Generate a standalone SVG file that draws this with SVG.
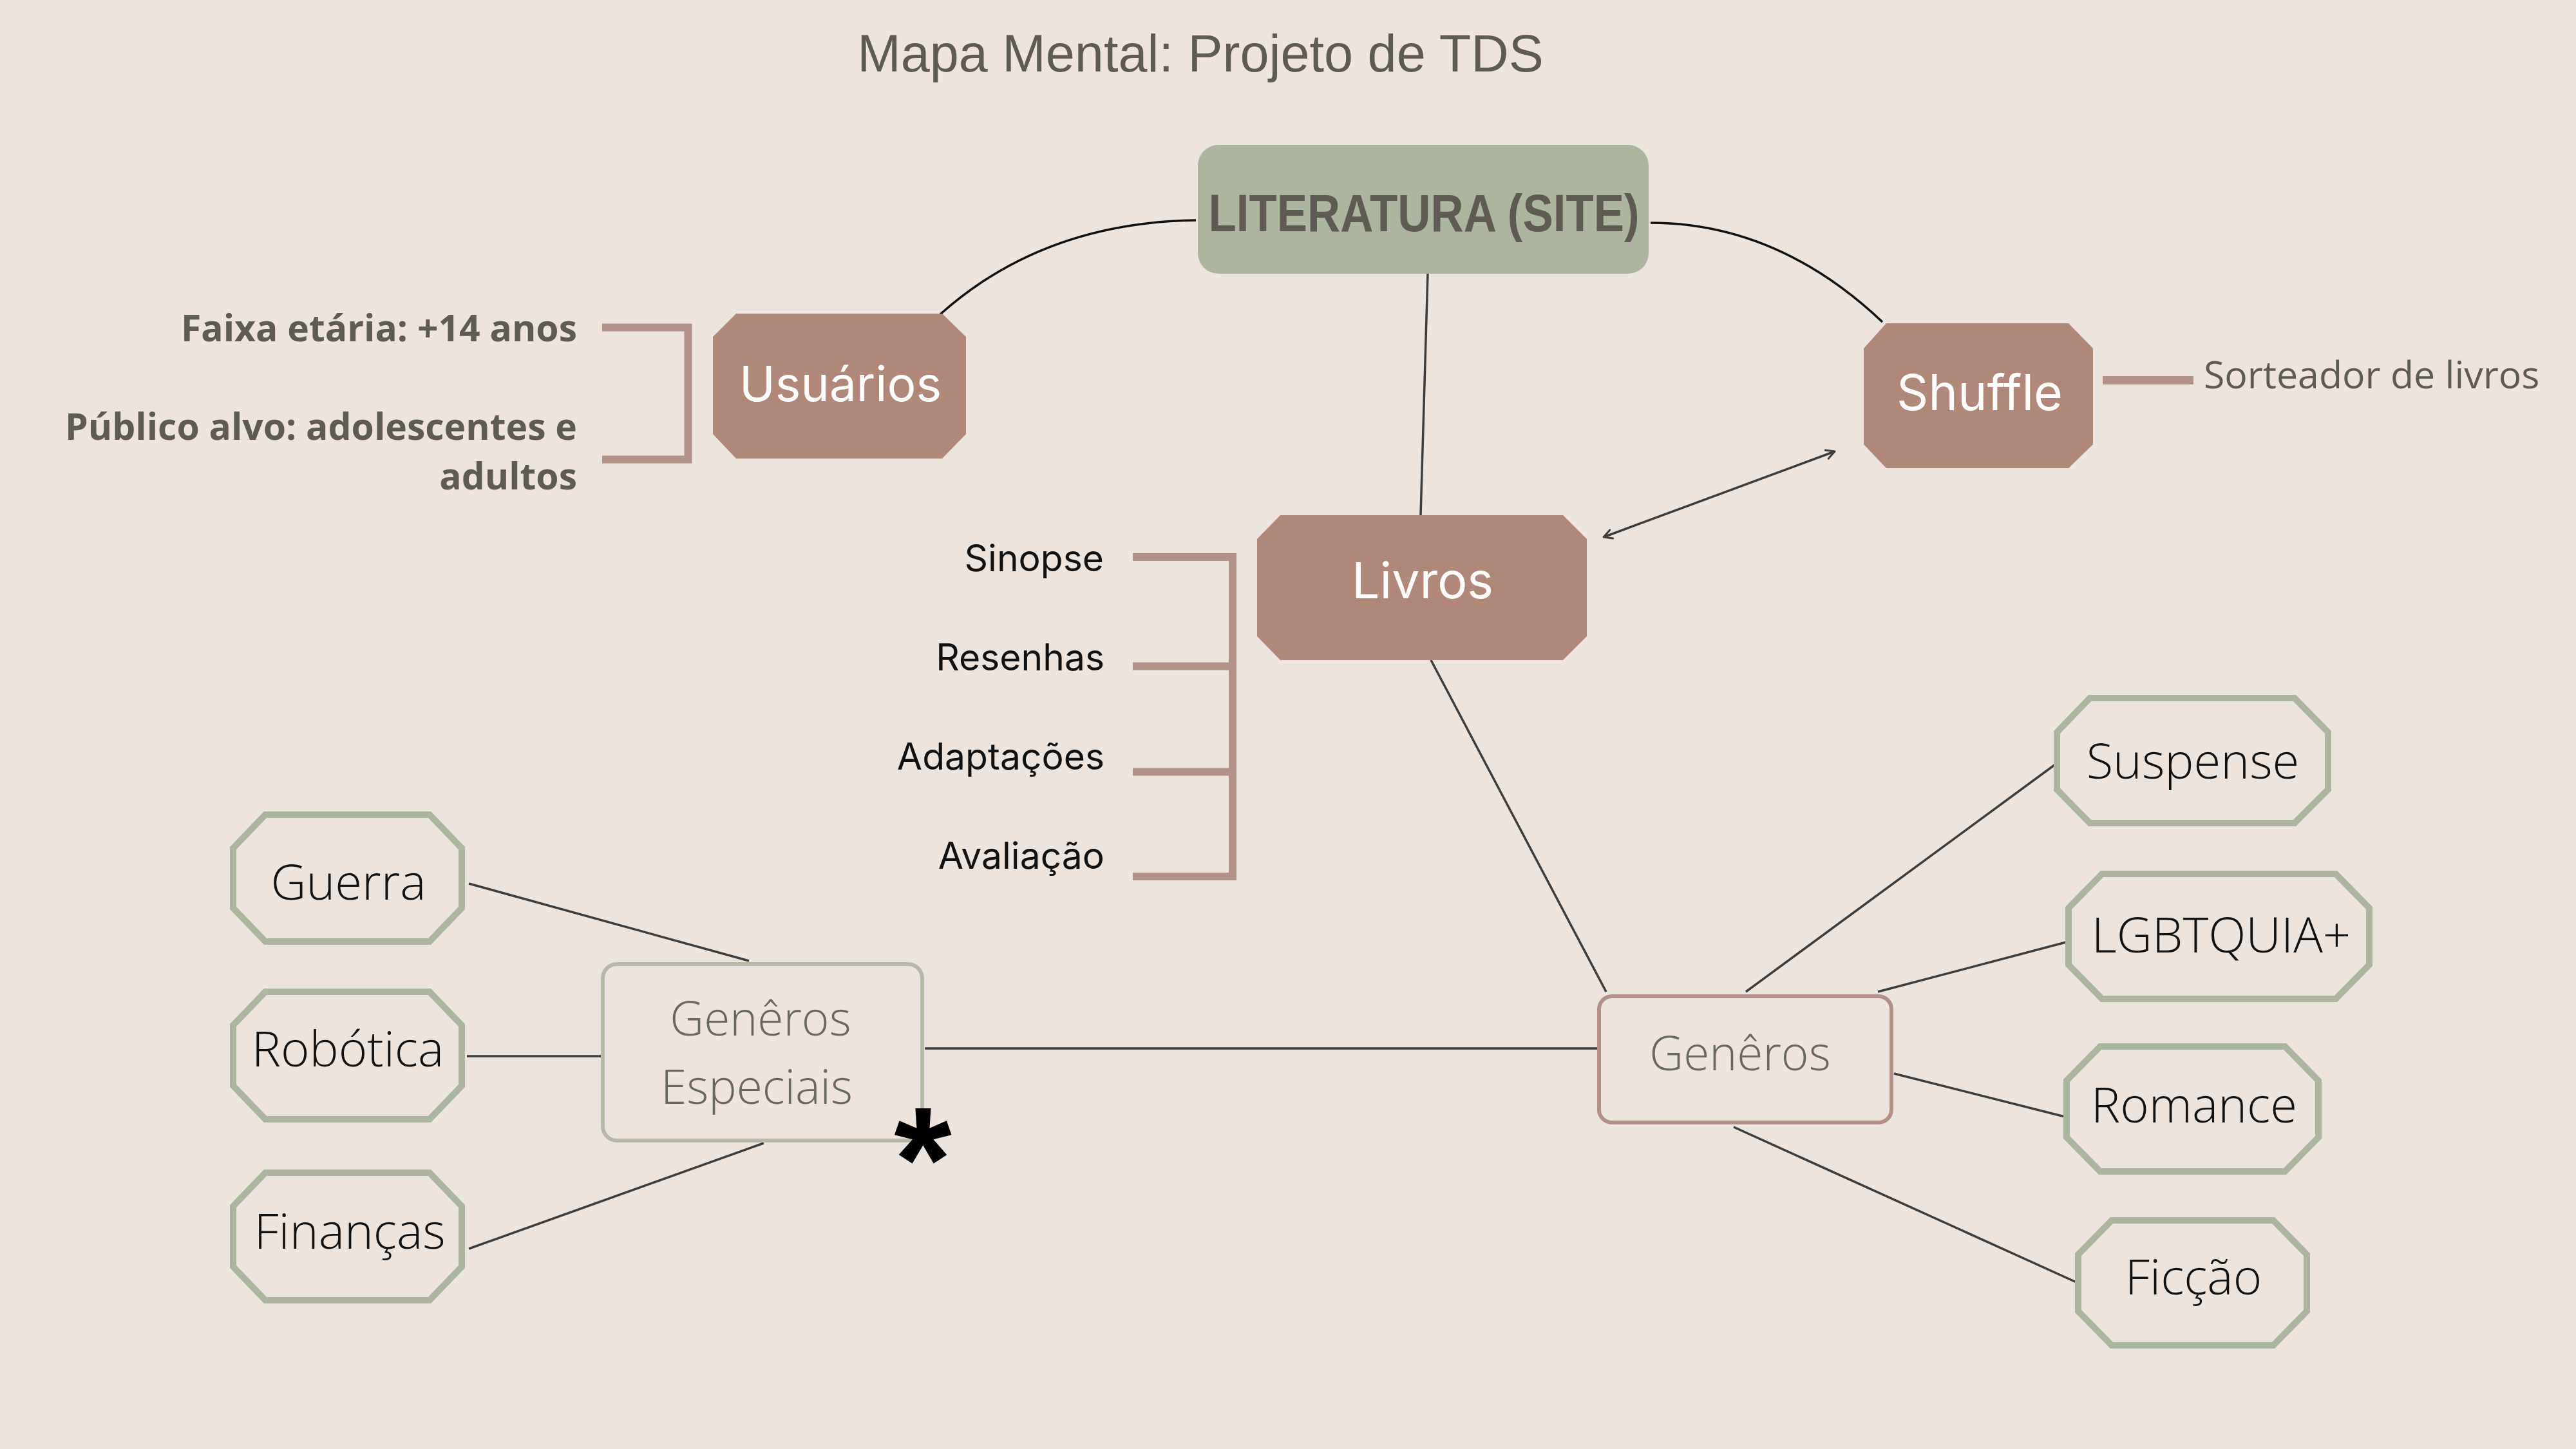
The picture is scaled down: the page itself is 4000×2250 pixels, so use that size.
<svg xmlns="http://www.w3.org/2000/svg" width="4000" height="2250" viewBox="0 0 4000 2250">
<defs>
<style>
.bg{fill:#ece5df}
.brown{fill:#b1877a}
.green{fill:#ece5df;stroke:#abb5a0;stroke-width:10;stroke-linejoin:miter}
.wt{fill:#ffffff;font-family:Inter,"Open Sans",sans-serif;font-weight:400;text-anchor:middle}
.gt{fill:#111111;font-family:"Open Sans","Liberation Sans",sans-serif;font-weight:300;font-size:76px;text-anchor:middle}
.side{fill:#111111;font-family:Inter,"Open Sans",sans-serif;font-weight:400;font-size:57px;text-anchor:end}
.users{fill:#5f5a53;font-family:"Open Sans","Liberation Sans",sans-serif;font-weight:700;font-size:57px;text-anchor:end}
.grey{fill:#6b6660;font-family:"Open Sans","Liberation Sans",sans-serif;font-weight:300;font-size:73px;text-anchor:middle}
.ln{fill:none;stroke:#3d3d3d;stroke-width:3.5}
.curve{fill:none;stroke:#111111;stroke-width:3.5}
.brk{fill:none;stroke:#b0928a;stroke-width:12}
</style>
<marker id="arr" viewBox="0 0 20 20" refX="17" refY="10" markerWidth="20" markerHeight="20" markerUnits="userSpaceOnUse" orient="auto-start-reverse">
<path d="M4,3 L17,10 L4,17" fill="none" stroke="#3d3d3d" stroke-width="3" stroke-linecap="round" stroke-linejoin="round"/>
</marker>
</defs>
<rect class="bg" x="0" y="0" width="4000" height="2250"/>
<text x="1864" y="111" fill="#5f5a53" font-family="'Liberation Sans',Arial,sans-serif" font-size="81" text-anchor="middle">Mapa Mental: Projeto de TDS</text>

<g id="connectors">
<path class="curve" d="M1460,488 Q1620,345 1857,342"/>
<path class="curve" d="M2563,346 Q2760,346 2923,500"/>
<line class="ln" x1="2217" y1="425" x2="2206" y2="800"/>
<line class="ln" x1="2490" y1="834" x2="2849" y2="701" marker-start="url(#arr)" marker-end="url(#arr)"/>
<line class="ln" x1="2222" y1="1025" x2="2494" y2="1540"/>
<line class="ln" x1="1436" y1="1628" x2="2481" y2="1628"/>
<line class="ln" x1="728" y1="1372" x2="1163" y2="1492"/>
<line class="ln" x1="725" y1="1640" x2="934" y2="1640"/>
<line class="ln" x1="728" y1="1939" x2="1186" y2="1775"/>
<line class="ln" x1="2711" y1="1540" x2="3190" y2="1188"/>
<line class="ln" x1="2916" y1="1540" x2="3212" y2="1462"/>
<line class="ln" x1="2941" y1="1667" x2="3206" y2="1734"/>
<line class="ln" x1="2692" y1="1750" x2="3224" y2="1991"/>
</g>

<g id="literatura">
<rect x="1860" y="225" width="700" height="200" rx="32" ry="32" fill="#abb5a0"/>
<text x="2211" y="359" fill="#5f5a53" font-family="'Liberation Sans',Arial,sans-serif" font-weight="700" font-size="82" text-anchor="middle" textLength="669" lengthAdjust="spacingAndGlyphs">LITERATURA (SITE)</text>
</g>

<g id="usuarios">
<polygon class="brown" points="1143,487 1463,487 1500,523 1500,674 1463,712 1143,712 1107,674 1107,523"/>
<text class="wt" x="1305" y="623" font-size="75">Usuários</text>
</g>

<g id="usuarios-info">
<path class="brk" d="M935,508.5 H1068.5 V713.5 H935"/>
<text class="users" x="896" y="530">Faixa etária: +14 anos</text>
<text class="users" x="896" y="683">Público alvo: adolescentes e</text>
<text class="users" x="896" y="760">adultos</text>
</g>

<g id="shuffle">
<polygon class="brown" points="2929,502 3212,502 3250,541 3250,690 3212,727 2929,727 2894,690 2894,541"/>
<text class="wt" x="3074" y="637" font-size="77" font-weight="300" font-family="'Open Sans',sans-serif">Shuffle</text>
</g>

<g id="shuffle-info">
<rect x="3265" y="584" width="141" height="13" fill="#b0928a"/>
<text x="3422" y="603" fill="#5f5a53" font-family="'Open Sans','Liberation Sans',sans-serif" font-size="59">Sorteador de livros</text>
</g>

<g id="livros">
<polygon class="brown" points="1988,800 2427,800 2464,837 2464,988 2427,1025 1988,1025 1952,988 1952,837"/>
<text class="wt" x="2209" y="929" font-size="77">Livros</text>
</g>

<g id="livros-info">
<path class="brk" d="M1759,865 H1914 V1361 H1759 M1759,1034.5 H1914 M1759,1198.5 H1914"/>
<text class="side" x="1714" y="887">Sinopse</text>
<text class="side" x="1715" y="1041">Resenhas</text>
<text class="side" x="1715" y="1195">Adaptações</text>
<text class="side" x="1715" y="1349">Avaliação</text>
</g>

<g id="generos-especiais">
<rect x="936" y="1497" width="496" height="274" rx="22" ry="22" fill="none" stroke="#b8b8aa" stroke-width="6"/>
<text class="grey" x="1181" y="1608">Genêros</text>
<text class="grey" x="1175" y="1714">Especiais</text>
<text x="1433" y="1880" fill="#000000" font-family="'Liberation Sans',Arial,sans-serif" font-weight="700" font-size="230" text-anchor="middle">*</text>
</g>

<g id="generos">
<rect x="2483" y="1547" width="454" height="196" rx="20" ry="20" fill="none" stroke="#b09088" stroke-width="6"/>
<text class="grey" x="2702" y="1662">Genêros</text>
</g>

<g id="guerra">
<polygon class="green" points="412,1265 667,1265 717,1317 717,1410 667,1462 412,1462 362,1410 362,1317"/>
<text class="gt" x="541" y="1397">Guerra</text>
</g>
<g id="robotica">
<polygon class="green" points="412,1540 667,1540 717,1592 717,1686 667,1738 412,1738 362,1686 362,1592"/>
<text class="gt" x="540" y="1656">Robótica</text>
</g>
<g id="financas">
<polygon class="green" points="412,1821 667,1821 717,1873 717,1967 667,2019 412,2019 362,1967 362,1873"/>
<text class="gt" x="543" y="1939">Finanças</text>
</g>

<g id="suspense">
<polygon class="green" points="3245,1084 3563,1084 3615,1137 3615,1226 3563,1278 3245,1278 3194,1226 3194,1137"/>
<text class="gt" x="3405" y="1209">Suspense</text>
</g>
<g id="lgbtquia">
<polygon class="green" points="3264,1357 3627,1357 3679,1410 3679,1498 3627,1551 3264,1551 3212,1498 3212,1410"/>
<text class="gt" x="3449" y="1479">LGBTQUIA+</text>
</g>
<g id="romance">
<polygon class="green" points="3261,1625 3548,1625 3600,1678 3600,1766 3548,1819 3261,1819 3209,1766 3209,1678"/>
<text class="gt" x="3407" y="1743">Romance</text>
</g>
<g id="ficcao">
<polygon class="green" points="3279,1895 3530,1895 3582,1948 3582,2036 3530,2089 3279,2089 3227,2036 3227,1948"/>
<text class="gt" x="3406" y="2010">Ficção</text>
</g>
</svg>
